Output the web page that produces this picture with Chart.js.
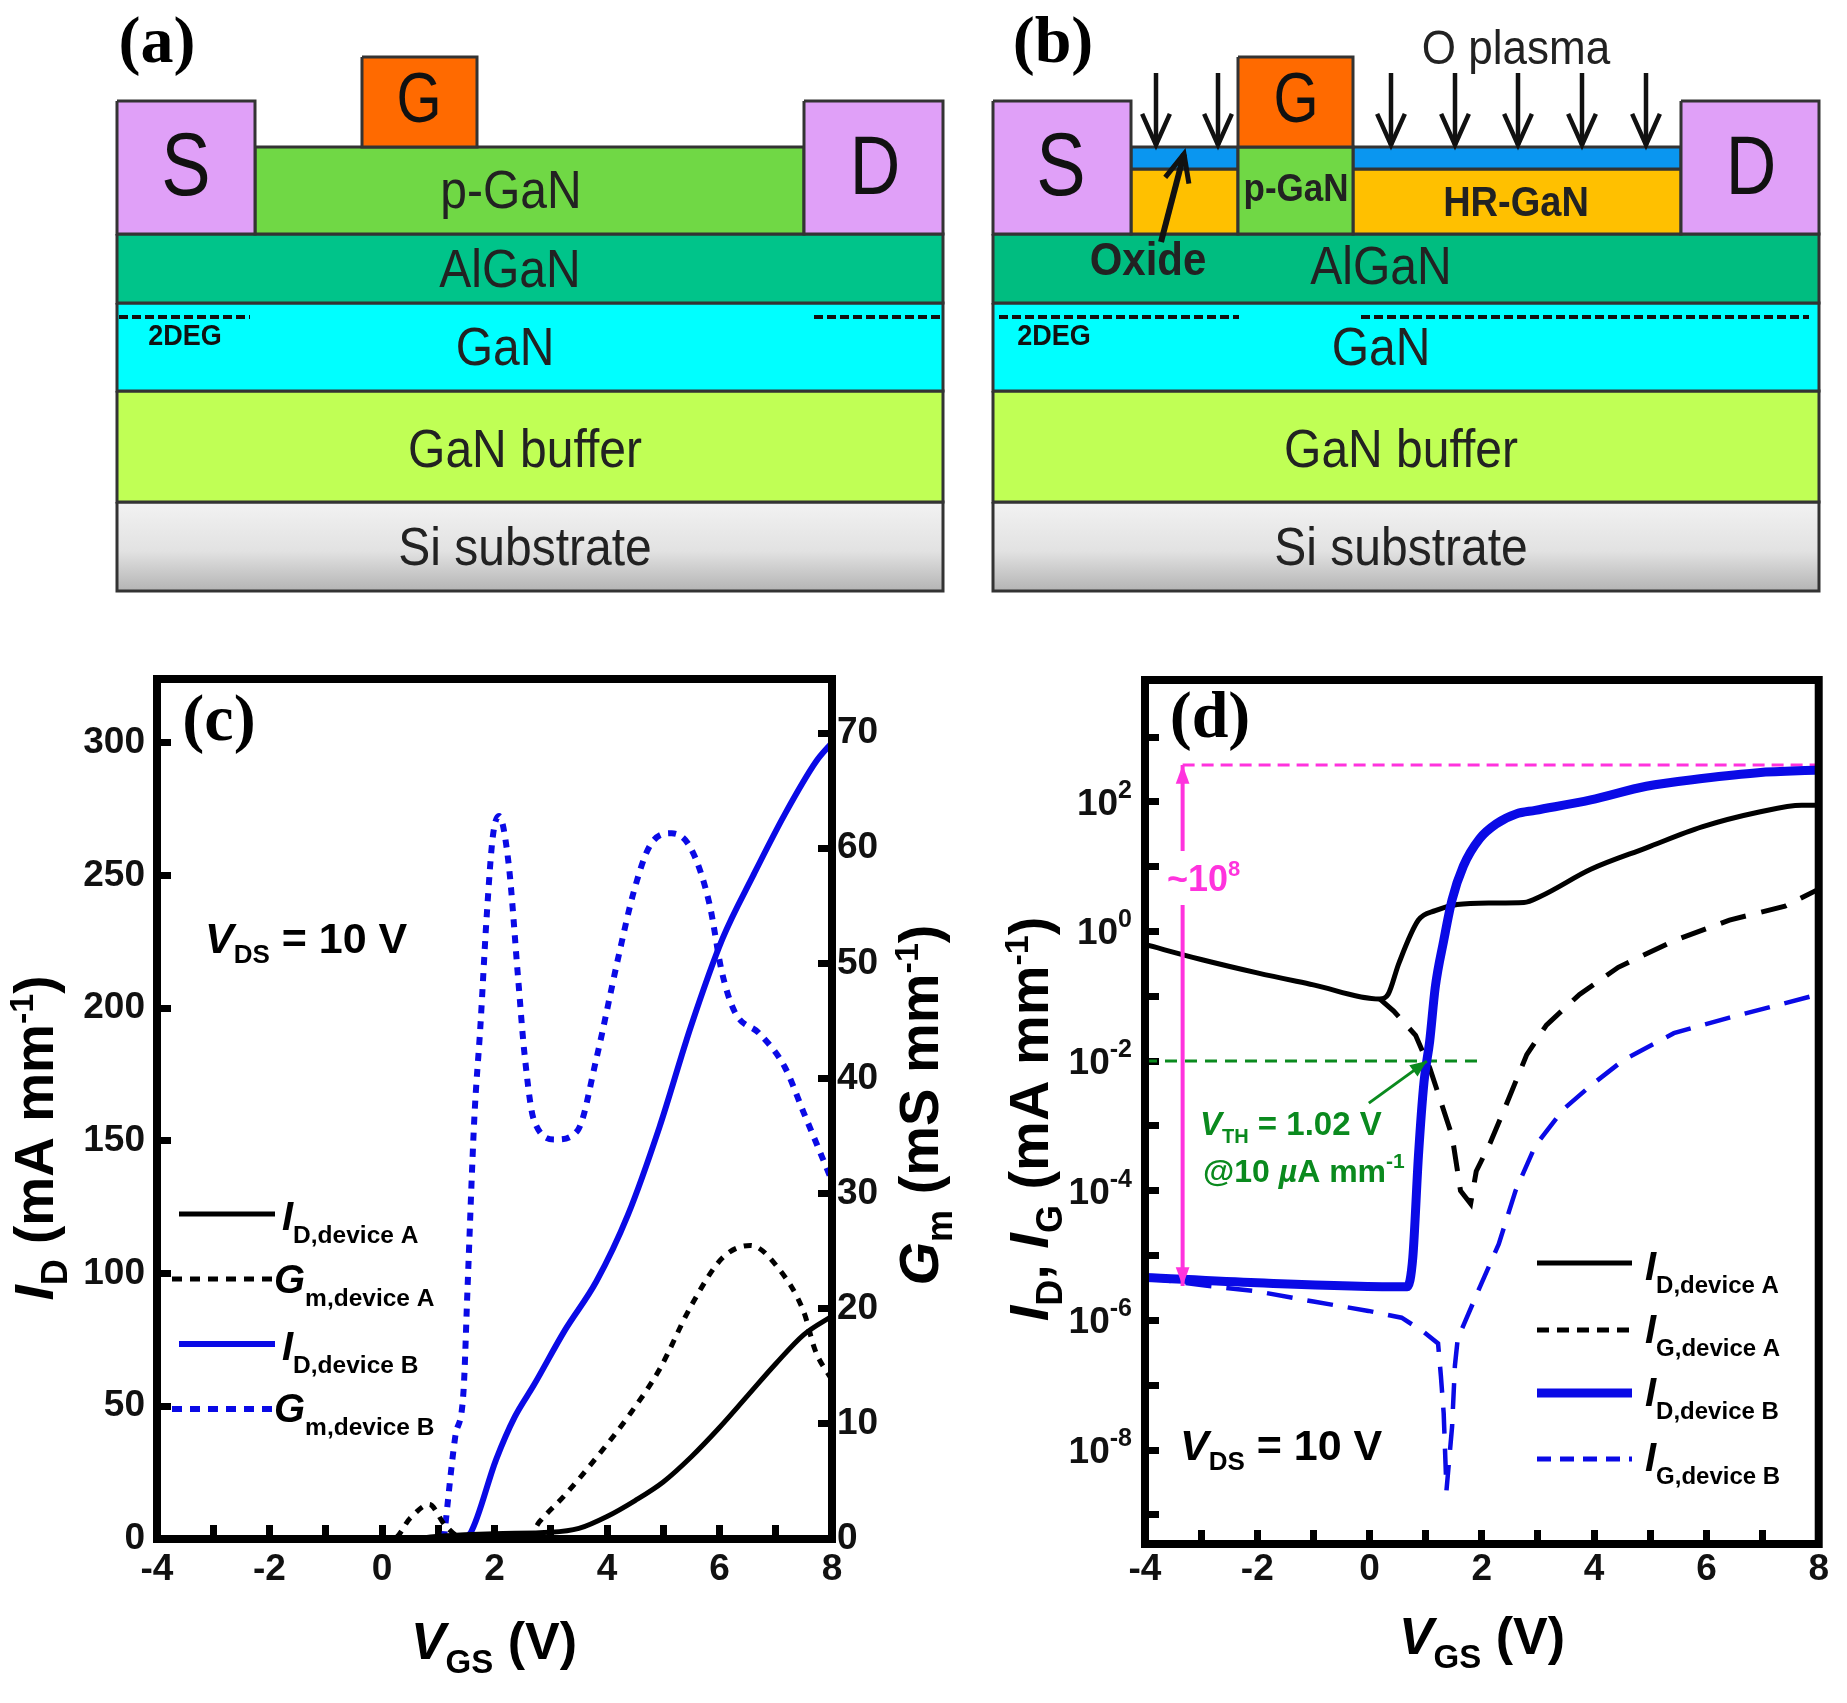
<!DOCTYPE html>
<html>
<head>
<meta charset="utf-8">
<script src="https://cdn.jsdelivr.net/npm/chart.js@4/dist/chart.umd.min.js"></script>
<style>
    html, body { margin: 0; padding: 0; background: #fff; }
    canvas { position: absolute; }
</style>
</head>
<body>
<canvas id="panel-a" width="980" height="620" style="left:0;top:0"></canvas>
<canvas id="panel-b" width="867" height="620" style="left:980px;top:0"></canvas>
<canvas id="panel-c" width="980" height="1083" style="left:0;top:620px"></canvas>
<canvas id="panel-d" width="867" height="1083" style="left:980px;top:620px"></canvas>
<script>
// Panel (c): transfer curves, linear axes
const cIdAx = [-4, 0.5, 1, 2, 3, 3.5, 4, 4.5, 5, 5.5, 6, 6.5, 7, 7.5, 8];
const cIdA = [0, 0, 1, 2, 2.5, 4, 8.5, 14.5, 21.5, 31, 42, 54, 66, 77, 84];
const cGmAx = [-4, 0.2, 0.5, 0.84, 1.12, 1.4, 2.6, 2.8, 3.25, 3.8, 4.37, 4.93, 5.49, 6.05, 6.55, 7.05, 7.5, 7.7, 8];
const cGmA = [0, 0, 1.8, 3, 1.2, 0.2, 0.2, 1.5, 3.8, 7, 10.6, 14.7, 20.2, 24.4, 25.5, 23.5, 19.7, 16.4, 13.8];
const cIdBx = [1.4, 1.58, 2.03, 2.36, 2.7, 3.25, 3.81, 4.37, 4.93, 5.49, 6.05, 6.6, 7.16, 7.72, 8];
const cIdB = [0, 2.5, 30, 46, 58, 78.6, 97, 122, 155, 193, 226, 250, 273, 293, 300];
const cGmBx = [1.1, 1.3, 1.45, 1.52, 1.64, 1.75, 1.86, 1.97, 2.08, 2.25, 2.42, 2.53, 2.7, 3.09, 3.48, 3.81, 4.2, 4.48, 4.76, 5.15, 5.49, 5.82, 6.04, 6.27, 6.71, 7.16, 7.5, 8];
const cGmB = [0, 8.8, 12.9, 21.7, 36.4, 44.6, 54, 61, 62.8, 58.7, 48.7, 42.3, 36.4, 34.7, 35.5, 41.7, 50.5, 56.3, 60.2, 61.3, 60, 55.2, 49.3, 45.8, 43.9, 41, 37, 31.1];

// Panel (d): same sweep, log axis
const dIdAx = [-4, -3, -2, -1, 0.18, 0.33, 0.52, 0.87, 1.17, 1.56, 2.16, 2.75, 3.05, 3.94, 4.93, 5.92, 6.92, 7.7, 8];
const dIdA = [0.63, 0.37, 0.23, 0.15, 0.091, 0.107, 0.32, 1.5, 2.1, 2.6, 2.75, 2.8, 3.5, 9.1, 19.5, 41, 69, 89, 89];
const dIgAx = [0.18, 0.43, 0.82, 1.07, 1.22, 1.47, 1.62, 1.8, 1.9, 2.15, 2.45, 2.8, 3.15, 3.74, 4.43, 5.42, 6.41, 7.4, 8];
const dIgA = [0.091, 0.059, 0.025, 0.0079, 0.0032, 7e-4, 1e-4, 6.3e-5, 2e-4, 5.5e-4, 2.3e-3, 0.0126, 0.036, 0.107, 0.28, 0.72, 1.5, 2.45, 4.5];
const dIdBx = [-4, -2, 0.67, 0.77, 0.87, 0.97, 1.07, 1.17, 1.32, 1.47, 1.67, 1.96, 2.26, 2.61, 2.95, 3.94, 4.93, 5.92, 6.92, 8];
const dIdB = [4.6e-6, 3.8e-6, 3.3e-6, 9.3e-6, 3.4e-4, 4.8e-3, 0.02, 0.138, 0.72, 3.1, 10.2, 27, 46, 65, 74, 107, 174, 229, 282, 309];
const dIgBx = [-4, -3, -2, -1, -0.02, 0.57, 0.97, 1.22, 1.27, 1.32, 1.37, 1.47, 1.52, 1.57, 1.96, 2.3, 2.6, 2.95, 3.45, 3.94, 4.53, 5.42, 6.41, 8];
const dIgB = [4.6e-6, 3.5e-6, 2.8e-6, 1.95e-6, 1.4e-6, 1.1e-6, 6.6e-7, 4.4e-7, 1.4e-7, 3.7e-8, 2.4e-9, 2.3e-8, 2e-7, 5.2e-7, 3.2e-6, 1.5e-5, 1e-4, 4.9e-4, 1.8e-3, 4.2e-3, 0.0105, 0.027, 0.047, 0.107];
const dDecades = [1e3, 1e2, 1e1, 1, 1e-1, 1e-2, 1e-3, 1e-4, 1e-5, 1e-6, 1e-7, 1e-8, 1e-9];
const dLabelled = [1e2, 1, 1e-2, 1e-4, 1e-6, 1e-8];
const dLabelExp = ['2', '0', '-2', '-4', '-6', '-8'];
const dRangeTop = 370;
const dRangeBottom = 3.4e-6;
const dRangeAt = -3.33;
const dThreshold = 0.01;
const dThresholdAt = 1.02;

// Device cross sections: layer rectangles in schematic units (0-826 wide, 0-534 deep)
const aLayerNames = ['S', 'D', 'G', 'p-GaN', 'AlGaN', 'GaN', 'GaN buffer', 'Si substrate'];
const aLayerX0 = [0, 687, 245, 138, 0, 0, 0, 0];
const aLayerX1 = [138, 826, 360, 687, 826, 826, 826, 826];
const aLayerY0 = [44, 44, 0, 90, 177, 246, 334, 445];
const aLayerY1 = [177, 177, 90, 177, 246, 334, 445, 534];
const aLayerColors = ['#e0a0f8', '#e0a0f8', '#ff6a00', '#70d845', '#00c48a', '#00ffff', '#c0ff55', 'si'];
const aDashes = [[2, 133], [697, 826]];
const bLayerNames = ['S', 'D', 'G', 'p-GaN', 'oxide L', 'oxide R', 'HR L', 'HR-GaN', 'AlGaN', 'GaN', 'GaN buffer', 'Si substrate'];
const bLayerX0 = [0, 688, 245, 245, 138, 360, 138, 360, 0, 0, 0, 0];
const bLayerX1 = [138, 826, 360, 360, 245, 688, 245, 688, 826, 826, 826, 826];
const bLayerY0 = [44, 44, 0, 90, 90, 90, 112, 112, 177, 246, 334, 445];
const bLayerY1 = [177, 177, 90, 177, 112, 112, 177, 177, 246, 334, 445, 534];
const bLayerColors = ['#e0a0f8', '#e0a0f8', '#ff6a00', '#70d845', '#0a96f0', '#0a96f0', '#ffc000', '#ffc000', '#00bd80', '#00ffff', '#c0ff55', 'si'];
const bDashes = [[6, 246], [368, 816]];
const dashDepth = 260;
const plasmaArrowX = [163, 225, 398, 462, 525, 589, 653];

const FONT = "'Liberation Sans'";
const SERIF = "'Liberation Serif'";
const BLUE = '#0a0ae6';
const GREEN = '#0a8a1e';
const MAGENTA = '#ff33dd';

Chart.defaults.font.family = FONT;
Chart.defaults.animation = false;

function zip(xs, ys) {
    return xs.map((x, i) => ({ x: x, y: ys[i] }));
}

function font(size, bold, italic) {
    return `${italic ? 'italic ' : ''}${bold ? 'bold ' : ''}${size}px ${FONT}`;
}

// Centered one-font label, page coordinates. The source artwork is a little
// stretched vertically, stretch is the extra height factor
function label(ctx, text, cx, cy, fontStr, color, stretch) {
    ctx.save();
    ctx.font = fontStr;
    ctx.fillStyle = color || '#222';
    ctx.textAlign = 'center';
    ctx.textBaseline = 'middle';
    ctx.translate(cx, cy);
    ctx.scale(1, stretch || 1);
    ctx.fillText(text, 0, 0);
    ctx.restore();
}

// Mixed-font text (italic symbols, subscripts, superscripts). Each run: [text, font, dy]
function runs(ctx, x, y, parts, color, opts) {
    opts = opts || {};
    ctx.save();
    ctx.fillStyle = color || '#000';
    ctx.textBaseline = 'alphabetic';
    ctx.textAlign = 'left';
    let total = 0;
    for (const p of parts) {
        ctx.font = p[1];
        total += ctx.measureText(p[0]).width;
    }
    ctx.translate(x, y);
    if (opts.rotate) ctx.rotate(-Math.PI / 2);
    let pos = 0;
    if (opts.center) pos = -total / 2;
    if (opts.right) pos = -total;
    for (const p of parts) {
        ctx.font = p[1];
        ctx.fillText(p[0], pos, p[2] || 0);
        pos += ctx.measureText(p[0]).width;
    }
    ctx.restore();
}

function arrowHead(ctx, x0, y0, x1, y1, len, spread, filled) {
    const a = Math.atan2(y1 - y0, x1 - x0);
    ctx.beginPath();
    ctx.moveTo(x1 - len * Math.cos(a - spread), y1 - len * Math.sin(a - spread));
    ctx.lineTo(x1, y1);
    ctx.lineTo(x1 - len * Math.cos(a + spread), y1 - len * Math.sin(a + spread));
    if (filled) {
        ctx.closePath();
        ctx.fill();
    } else {
        ctx.stroke();
    }
}

function shaft(ctx, x0, y0, x1, y1) {
    ctx.beginPath();
    ctx.moveTo(x0, y0);
    ctx.lineTo(x1, y1);
    ctx.stroke();
}

// Plugin that runs a panel's drawing callback in page coordinates
function overlay(draw) {
    return {
        id: 'overlay',
        afterDraw(chart) {
            const ctx = chart.ctx;
            ctx.save();
            ctx.translate(-chart.canvas.offsetLeft, -chart.canvas.offsetTop);
            draw(ctx, chart);
            ctx.restore();
        }
    };
}

const framePlugin = {
    id: 'frame',
    afterDatasetsDraw(chart) {
        const a = chart.chartArea;
        const ctx = chart.ctx;
        ctx.save();
        ctx.lineWidth = 8;
        ctx.strokeStyle = '#000';
        ctx.strokeRect(a.left, a.top, a.right - a.left, a.bottom - a.top);
        ctx.restore();
    }
};

// ---- cross sections ----
function layerDatasets(ctx, names, x0, x1, y0, y1, colors) {
    return names.map((name, i) => ({
        label: name,
        data: [
            { x: x0[i], y: y0[i] }, { x: x1[i], y: y0[i] },
            { x: x1[i], y: y1[i] }, { x: x0[i], y: y1[i] },
            { x: x0[i], y: y0[i] }
        ],
        showLine: true,
        pointRadius: 0,
        borderColor: '#333',
        borderWidth: 3,
        fill: 'shape',
        backgroundColor: colors[i] === 'si' ? siGradient(ctx) : colors[i]
    }));
}

function siGradient(ctx) {
    const g = ctx.createLinearGradient(0, 502, 0, 591);
    g.addColorStop(0, '#f2f2f2');
    g.addColorStop(0.55, '#e2e2e2');
    g.addColorStop(1, '#b4b4b4');
    return g;
}

// Chart.js paints dataset 0 last, so these go in front of the layers
function dashDatasets(ranges) {
    return ranges.map((r) => ({
        data: [{ x: r[0], y: dashDepth }, { x: r[1], y: dashDepth }],
        showLine: true,
        pointRadius: 0,
        borderColor: '#111',
        borderWidth: 4,
        borderDash: [9, 4],
        fill: false
    }));
}

function deviceOptions(left, right) {
    return {
        responsive: false,
        animation: false,
        clip: false,
        layout: { padding: { left: left, right: right, top: 57, bottom: 29 } },
        plugins: { legend: { display: false }, tooltip: { enabled: false } },
        scales: {
            x: { type: 'linear', display: false, min: 0, max: 826 },
            y: { type: 'linear', display: false, min: 0, max: 534, reverse: true }
        }
    };
}

function createPanelA() {
    const el = document.getElementById('panel-a');
    new Chart(el, {
        type: 'scatter',
        data: {
            datasets: dashDatasets(aDashes).concat(
                layerDatasets(el.getContext('2d'), aLayerNames, aLayerX0, aLayerX1, aLayerY0, aLayerY1, aLayerColors))
        },
        options: deviceOptions(117, 37),
        plugins: [overlay((ctx) => {
            label(ctx, '(a)', 157, 45, `bold 66px ${SERIF}`, '#000');
            label(ctx, 'S', 186, 171, font(74), '#111', 1.2);
            label(ctx, 'G', 419, 103, font(58), '#111', 1.2);
            label(ctx, 'D', 875, 171, font(70), '#111', 1.2);
            label(ctx, 'p-GaN', 511, 193, font(48), '#222', 1.12);
            label(ctx, 'AlGaN', 510, 272, font(48), '#222', 1.12);
            label(ctx, 'GaN', 505, 350, font(48), '#222', 1.12);
            label(ctx, 'GaN buffer', 525, 452, font(48), '#222', 1.12);
            label(ctx, 'Si substrate', 525, 550, font(48), '#222', 1.12);
            label(ctx, '2DEG', 185, 337, font(27, true), '#111', 1.1);
        })]
    });
}

function createPanelB() {
    const el = document.getElementById('panel-b');
    new Chart(el, {
        type: 'scatter',
        data: {
            datasets: dashDatasets(bDashes).concat(
                layerDatasets(el.getContext('2d'), bLayerNames, bLayerX0, bLayerX1, bLayerY0, bLayerY1, bLayerColors))
        },
        options: deviceOptions(13, 28),
        plugins: [overlay((ctx, chart) => {
            const sx = chart.scales.x;
            const sy = chart.scales.y;
            const ox = chart.canvas.offsetLeft;
            const oy = chart.canvas.offsetTop;
            ctx.save();
            ctx.strokeStyle = '#111';
            ctx.lineWidth = 4.5;
            for (const v of plasmaArrowX) {
                const x = sx.getPixelForValue(v) + ox;
                const y0 = sy.getPixelForValue(16) + oy;
                const y1 = sy.getPixelForValue(88) + oy;
                shaft(ctx, x, y0, x, y1);
                arrowHead(ctx, x, y0, x, y1, 34, 0.42, false);
            }
            ctx.lineWidth = 6;
            const ox0 = sx.getPixelForValue(168) + ox;
            const oy0 = sy.getPixelForValue(185) + oy;
            const ox1 = sx.getPixelForValue(191) + ox;
            const oy1 = sy.getPixelForValue(97) + oy;
            shaft(ctx, ox0, oy0, ox1, oy1);
            ctx.lineWidth = 5;
            arrowHead(ctx, ox0, oy0, ox1, oy1, 30, 0.42, false);
            ctx.restore();

            label(ctx, '(b)', 1053, 45, `bold 66px ${SERIF}`, '#000');
            label(ctx, 'O plasma', 1516, 51, font(44), '#222', 1.1);
            label(ctx, 'S', 1061, 171, font(74), '#111', 1.2);
            label(ctx, 'G', 1296, 103, font(58), '#111', 1.2);
            label(ctx, 'D', 1751, 171, font(70), '#111', 1.2);
            label(ctx, 'p-GaN', 1296, 190, font(35, true), '#222', 1.1);
            label(ctx, 'HR-GaN', 1516, 204, font(38, true), '#222', 1.1);
            label(ctx, 'Oxide', 1148, 262, font(42, true), '#222', 1.1);
            label(ctx, 'AlGaN', 1381, 269, font(48), '#222', 1.12);
            label(ctx, 'GaN', 1381, 350, font(48), '#222', 1.12);
            label(ctx, 'GaN buffer', 1401, 452, font(48), '#222', 1.12);
            label(ctx, 'Si substrate', 1401, 550, font(48), '#222', 1.12);
            label(ctx, '2DEG', 1054, 337, font(27, true), '#111', 1.1);
        })]
    });
}

// ---- measured curves ----
function curve(points, color, width, dash, axis, straight) {
    return {
        data: points,
        showLine: true,
        pointRadius: 0,
        borderColor: color,
        borderWidth: width,
        borderDash: dash || [],
        borderCapStyle: 'butt',
        cubicInterpolationMode: straight ? 'default' : 'monotone',
        tension: 0,
        fill: false,
        yAxisID: axis || 'y'
    };
}

const tickFont = { size: 37, weight: 'bold', family: FONT };

function tickGrid(width) {
    return { drawOnChartArea: false, drawTicks: true, tickLength: -14, tickWidth: width, tickColor: '#000' };
}

function xAxis(height, padding) {
    return {
        type: 'linear',
        min: -4,
        max: 8,
        border: { display: false },
        grid: tickGrid(7),
        afterFit(scale) { scale.height = height; },
        ticks: {
            stepSize: 1,
            autoSkip: false,
            maxRotation: 0,
            padding: padding,
            color: '#111',
            font: tickFont,
            callback: (v) => (v % 2 === 0 ? String(v) : '')
        }
    };
}

function legendLine(ctx, x0, x1, y, color, width, dash) {
    ctx.save();
    ctx.strokeStyle = color;
    ctx.lineWidth = width;
    ctx.setLineDash(dash || []);
    shaft(ctx, x0, y, x1, y);
    ctx.restore();
}

function createPanelC() {
    new Chart(document.getElementById('panel-c'), {
        type: 'scatter',
        data: {
            datasets: [
                curve(zip(cIdAx, cIdA), '#000', 5),
                curve(zip(cGmAx, cGmA), '#000', 5, [8, 8], 'y1'),
                curve(zip(cIdBx, cIdB), BLUE, 6),
                curve(zip(cGmBx, cGmB), BLUE, 6, [8, 8], 'y1')
            ]
        },
        options: {
            responsive: false,
            animation: false,
            layout: { padding: { left: 0, right: 0, top: 59, bottom: 0 } },
            plugins: { legend: { display: false }, tooltip: { enabled: false } },
            scales: {
                x: xAxis(164, 23),
                y: {
                    type: 'linear',
                    position: 'left',
                    min: 0,
                    max: 324,
                    border: { display: false },
                    grid: tickGrid(7),
                    afterFit(scale) { scale.width = 157; },
                    ticks: { stepSize: 50, includeBounds: false, padding: 26, color: '#111', font: tickFont }
                },
                y1: {
                    type: 'linear',
                    position: 'right',
                    min: 0,
                    max: 74.7,
                    border: { display: false },
                    grid: tickGrid(7),
                    afterFit(scale) { scale.width = 148; },
                    ticks: { stepSize: 10, includeBounds: false, padding: 19, color: '#111', font: tickFont }
                }
            }
        },
        plugins: [framePlugin, overlay((ctx) => {
            label(ctx, '(c)', 219, 723, `bold 66px ${SERIF}`, '#000');
            runs(ctx, 205, 953, [['V', font(43, true, true)], ['DS', font(26, true), 10], [' = 10 V', font(43, true)]]);

            legendLine(ctx, 179, 275, 1214, '#000', 5);
            legendLine(ctx, 172, 275, 1279, '#000', 5, [10, 8]);
            legendLine(ctx, 179, 275, 1344, BLUE, 6);
            legendLine(ctx, 172, 275, 1409, BLUE, 6, [10, 8]);
            runs(ctx, 282, 1230, [['I', font(40, true, true)], ['D,device A', font(24.5, true), 13]]);
            runs(ctx, 274, 1293, [['G', font(40, true, true)], ['m,device A', font(24.5, true), 13]]);
            runs(ctx, 282, 1360, [['I', font(40, true, true)], ['D,device B', font(24.5, true), 13]]);
            runs(ctx, 274, 1422, [['G', font(40, true, true)], ['m,device B', font(24.5, true), 13]]);

            runs(ctx, 494, 1659, [['V', font(52, true, true)], ['GS', font(33, true), 14], [' (V)', font(52, true)]], '#000', { center: true });
            runs(ctx, 53, 1138, [['I', font(55, true, true)], ['D', font(36, true), 14], [' (mA mm', font(55, true)], ['-1', font(34, true), -20], [')', font(55, true)]], '#000', { center: true, rotate: true });
            runs(ctx, 938, 1105, [['G', font(56, true, true)], ['m', font(36, true), 14], [' (mS mm', font(56, true)], ['-1', font(34, true), -20], [')', font(56, true)]], '#000', { center: true, rotate: true });
        })]
    });
}

function createPanelD() {
    new Chart(document.getElementById('panel-d'), {
        type: 'scatter',
        data: {
            datasets: [
                curve(zip(dIdBx, dIdB), BLUE, 9),
                curve(zip(dIdAx, dIdA), '#000', 5),
                curve(zip(dIgAx, dIgA), '#000', 5, [26, 16], 'y', true),
                curve(zip(dIgBx, dIgB), BLUE, 4.5, [26, 15], 'y', true),
                {
                    data: [{ x: dRangeAt, y: dRangeTop }, { x: 8, y: dRangeTop }],
                    showLine: true, pointRadius: 0, borderColor: MAGENTA, borderWidth: 3, borderDash: [12, 7], fill: false
                },
                {
                    data: [{ x: -4, y: dThreshold }, { x: 2, y: dThreshold }],
                    showLine: true, pointRadius: 0, borderColor: GREEN, borderWidth: 3, borderDash: [12, 8], fill: false
                }
            ]
        },
        options: {
            responsive: false,
            animation: false,
            layout: { padding: { left: 0, right: 6, top: 60, bottom: 0 } },
            plugins: { legend: { display: false }, tooltip: { enabled: false } },
            scales: {
                x: xAxis(159, 18),
                y: {
                    type: 'logarithmic',
                    position: 'left',
                    min: 10 ** -9.45,
                    max: 10 ** 3.88,
                    border: { display: false },
                    grid: tickGrid(7),
                    afterFit(scale) { scale.width = 165; },
                    afterBuildTicks(scale) { scale.ticks = dDecades.map((v) => ({ value: v, major: true })); },
                    ticks: { display: false }
                }
            }
        },
        plugins: [framePlugin, overlay((ctx, chart) => {
            const sx = chart.scales.x;
            const sy = chart.scales.y;
            const ox = chart.canvas.offsetLeft;
            const oy = chart.canvas.offsetTop;
            // tick labels with a real superscript, the axis can't do rich text
            dLabelled.forEach((v, i) => {
                runs(ctx, sx.getPixelForValue(-4) + ox - 13, sy.getPixelForValue(v) + oy + 13,
                    [['10', font(37, true)], [dLabelExp[i], font(25, true), -17]], '#111', { right: true });
            });
            // range arrow, split around the ~10^8 label
            const rx = sx.getPixelForValue(dRangeAt) + ox;
            ctx.save();
            ctx.strokeStyle = MAGENTA;
            ctx.fillStyle = MAGENTA;
            ctx.lineWidth = 4;
            const top = sy.getPixelForValue(dRangeTop) + oy;
            const bottom = sy.getPixelForValue(dRangeBottom) + oy;
            shaft(ctx, rx, top, rx, 851);
            shaft(ctx, rx, 905, rx, bottom);
            arrowHead(ctx, rx, bottom - 40, rx, bottom, 20, 0.35, true);
            arrowHead(ctx, rx, top + 40, rx, top, 20, 0.35, true);
            // threshold pointer
            ctx.strokeStyle = GREEN;
            ctx.fillStyle = GREEN;
            ctx.lineWidth = 3;
            const tx = sx.getPixelForValue(dThresholdAt) + ox;
            const ty = sy.getPixelForValue(dThreshold) + oy;
            shaft(ctx, tx - 58, ty + 42, tx, ty);
            arrowHead(ctx, tx - 58, ty + 42, tx, ty, 18, 0.4, true);
            ctx.restore();

            label(ctx, '(d)', 1210, 720, `bold 66px ${SERIF}`, '#000');
            runs(ctx, 1167, 891, [['~10', font(36, true)], ['8', font(22, true), -15]], MAGENTA);
            runs(ctx, 1200, 1135, [['V', font(33, true, true)], ['TH', font(20, true), 8], [' = 1.02 V', font(33, true)]], GREEN);
            runs(ctx, 1203, 1182, [['@10 ', font(32, true)], ['µ', font(32, true, true)], ['A mm', font(32, true)], ['-1', font(21, true), -14]], GREEN);
            runs(ctx, 1180, 1460, [['V', font(43, true, true)], ['DS', font(26, true), 10], [' = 10 V', font(43, true)]]);

            legendLine(ctx, 1537, 1632, 1263, '#000', 5);
            legendLine(ctx, 1537, 1632, 1330, '#000', 5, [12, 8]);
            legendLine(ctx, 1537, 1632, 1393, BLUE, 9);
            legendLine(ctx, 1537, 1632, 1459, BLUE, 5, [14, 9]);
            runs(ctx, 1645, 1280, [['I', font(40, true, true)], ['D,device A', font(24, true), 13]]);
            runs(ctx, 1645, 1343, [['I', font(40, true, true)], ['G,device A', font(24, true), 13]]);
            runs(ctx, 1645, 1406, [['I', font(40, true, true)], ['D,device B', font(24, true), 13]]);
            runs(ctx, 1645, 1471, [['I', font(40, true, true)], ['G,device B', font(24, true), 13]]);

            runs(ctx, 1482, 1654, [['V', font(52, true, true)], ['GS', font(33, true), 14], [' (V)', font(52, true)]], '#000', { center: true });
            runs(ctx, 1048, 1119, [['I', font(56, true, true)], ['D', font(36, true), 14], [', ', font(56, true)], ['I', font(56, true, true)], ['G', font(36, true), 14], [' (mA mm', font(56, true)], ['-1', font(34, true), -20], [')', font(56, true)]], '#000', { center: true, rotate: true });
        })]
    });
}

createPanelA();
createPanelB();
createPanelC();
createPanelD();
</script>
</body>
</html>
